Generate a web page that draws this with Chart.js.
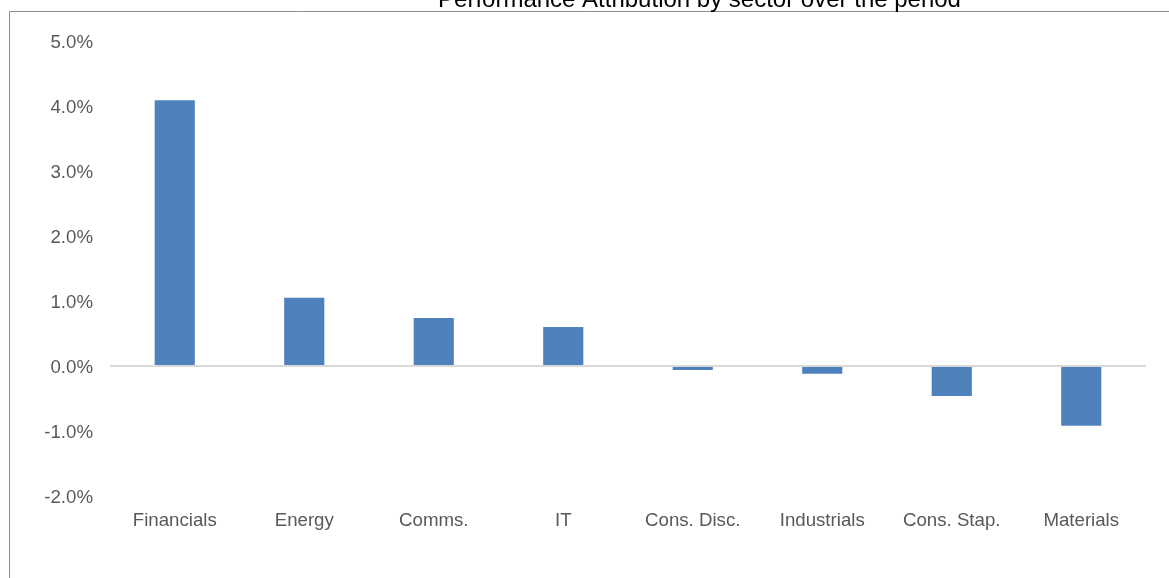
<!DOCTYPE html>
<html>
<head>
<meta charset="utf-8">
<script src="https://cdn.jsdelivr.net/npm/chart.js@4"></script>
<style>
html,body{margin:0;padding:0;background:#fff;}
#wrap{position:relative;width:1169px;height:578px;}
</style>
</head>
<body>
<div id="wrap"><canvas id="c" width="1169" height="578"></canvas></div>
<script>
const titleText = "Performance Attribution by sector over the period";
const categories = ["Financials","Energy","Comms.","IT","Cons. Disc.","Industrials","Cons. Stap.","Materials"];
const attribution = [4.09, 1.05, 0.74, 0.60, -0.06, -0.12, -0.46, -0.92];
const yTicks = [-2, -1, 0, 1, 2, 3, 4, 5];

const FONT = "'Liberation Sans', Arial, sans-serif";

const framePlugin = {
  id: 'frame',
  afterDraw(chart) {
    const ctx = chart.ctx;
    ctx.save();
    ctx.strokeStyle = '#8c8c8c';
    ctx.lineWidth = 1;
    ctx.beginPath();
    ctx.moveTo(9.5, 578);
    ctx.lineTo(9.5, 11.5);
    ctx.lineTo(1169, 11.5);
    ctx.stroke();
    ctx.fillStyle = '#000000';
    ctx.font = "24px " + FONT;
    ctx.textAlign = 'center';
    ctx.textBaseline = 'alphabetic';
    ctx.fillText(titleText, 699.5, 6.5);
    ctx.restore();
  }
};

new Chart(document.getElementById('c'), {
  type: 'bar',
  data: {
    labels: categories,
    datasets: [{
      data: attribution,
      backgroundColor: '#4F81BD',
      borderWidth: 0,
      barPercentage: 0.31,
      categoryPercentage: 1.0
    }]
  },
  options: {
    responsive: false,
    animation: false,
    layout: { padding: { left: 0, right: 23, top: 41, bottom: 0 } },
    plugins: { legend: { display: false }, tooltip: { enabled: false }, title: { display: false } },
    scales: {
      x: {
        grid: { display: false, drawTicks: false },
        border: { display: false },
        ticks: { color: '#595959', font: { family: FONT, size: 18.67 }, padding: 14, maxRotation: 0, autoSkip: false },
        afterFit(scale) { scale.height = 82; }
      },
      y: {
        min: -2, max: 5,
        afterBuildTicks(scale) { scale.ticks = yTicks.map(v => ({ value: v })); },
        grid: {
          drawTicks: false,
          color: ctx => (ctx.tick && ctx.tick.value === 0) ? '#d9d9d9' : 'rgba(0,0,0,0)',
          lineWidth: 2
        },
        border: { display: false },
        ticks: {
          color: '#595959', font: { family: FONT, size: 18.67 }, padding: 17, labelOffset: 2,
          callback: v => v.toFixed(1) + '%'
        },
        afterFit(scale) { scale.width = 110; }
      }
    }
  },
  plugins: [framePlugin]
});
</script>
</body>
</html>
